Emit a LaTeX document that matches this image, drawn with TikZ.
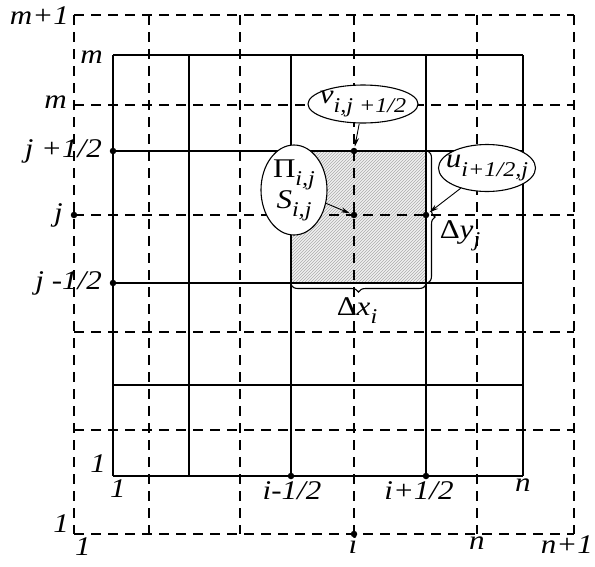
\documentclass[tikz,border=0pt]{standalone}
\usepackage{fontspec}
\setmainfont{Liberation Serif}[FakeStretch = 1.15]
\usetikzlibrary{positioning}
\usetikzlibrary{shapes.geometric}
\usetikzlibrary{arrows.meta}
\usetikzlibrary{patterns}
\usetikzlibrary{decorations.pathreplacing}

\tikzset{
	solidline/.style = {line width = 1.6pt},
	dashline/.style = {line width = 1.6pt, dash pattern = on 10pt off 7pt},
	lbl/.style = {font = \fontsize{27}{30}\selectfont\itshape, inner sep = 1pt},
	bubble/.style = {ellipse, draw, fill = white, line width = 1.1pt, inner sep = -10pt, font = \fontsize{27}{31}\selectfont\itshape},
	gridpt/.style = {circle, fill = black, inner sep = 0pt, minimum size = 6.5pt},
	pointer/.style = {-{Stealth[length = 9pt, width = 5pt]}, line width = 0.9pt, shorten > = 1pt},
	bracket/.style = {decorate, decoration = {brace, amplitude = 7pt}, line width = 1.1pt}
}
\newcommand{\lowidx}[1]{\raisebox{-0.3em}{\fontsize{21}{21}\selectfont #1}}

\begin{document}
\begin{tikzpicture}[x = 1pt, y = -1pt]
				\useasboundingbox (0, 0) rectangle (595, 566);
				% shaded control volume
				\fill[gray!12] (291, 151) rectangle (426, 283);
				\fill[pattern = north east lines, pattern color = gray!65] (291, 151) rectangle (426, 283);
				% staggered grid
				\foreach \gx in {113, 189, 291, 426, 523} \draw[solidline] (\gx, 55) -- (\gx, 476);
				\foreach \gy in {55, 151, 283, 385, 476} \draw[solidline] (113, \gy) -- (523, \gy);
				\foreach \gx in {74, 149, 240, 354, 477, 574} \draw[dashline] (\gx, 15) -- (\gx, 534);
				\foreach \gy in {15, 105, 215, 332, 430, 534} \draw[dashline] (74, \gy) -- (574, \gy);
				% marked points
				\node[gridpt] (vface) at (354, 151) {};
				\node[gridpt] (centre) at (354, 215) {};
				\node[gridpt] (uface) at (426, 215) {};
				\node[gridpt] (jtop) at (113, 151) {};
				\node[gridpt] (jmid) at (74, 215) {};
				\node[gridpt] (jbot) at (113, 283) {};
				\node[gridpt] (ileft) at (291, 476) {};
				\node[gridpt] (iright) at (426, 476) {};
				\node[gridpt] (imid) at (354, 534) {};
				% row labels
				\node[lbl, anchor = east] (mtop) at (70, 16) {m+1};
				\node[lbl, anchor = east] (msolid) at (104, 57) {m};
				\node[lbl, anchor = east] (mdash) at (68, 102) {m};
				\node[lbl, anchor = east] (jtoplbl) at (103, 151) {j +1/2};
				\node[lbl, anchor = east] (jmidlbl) at (64, 215) {j};
				\node[lbl, anchor = east] (jbotlbl) at (103, 283) {j -1/2};
				\node[lbl, anchor = east] (onesolid) at (107, 464) {1};
				\node[lbl, anchor = east] (onedash) at (70, 524) {1};
				% column labels
				\node[lbl, anchor = north] (oneleft) at (118, 478) {1};
				\node[lbl, anchor = north] (ileftlbl) at (292, 480) {i-1/2};
				\node[lbl, anchor = north] (irightlbl) at (419, 480) {i+1/2};
				\node[lbl, anchor = north] (nsolid) at (523, 478) {n};
				\node[lbl, anchor = north] (onebot) at (83, 536) {1};
				\node[lbl, anchor = north] (imidlbl) at (353, 534) {i};
				\node[lbl, anchor = north] (ndash) at (477, 536) {n};
				\node[lbl, anchor = north east] (nplus) at (594, 534) {n+1};
				% variables
				\node[bubble, minimum width = 110pt, minimum height = 38pt] (vvar) at (363, 104) {v\lowidx{i,j +1/2}};
				\node[bubble, minimum width = 66pt, minimum height = 90pt, align = center] (pvar) at (294, 190) {{\upshape Π}\lowidx{i,j}\\[0pt]S\lowidx{i,j}};
				\node[bubble, minimum width = 97pt, minimum height = 47pt] (uvar) at (487, 168) {u\lowidx{i+1/2,j}};
				\draw[pointer] (vvar) -- (vface);
				\draw[pointer] (pvar) -- (centre);
				\draw[pointer] (uvar) -- (uface);
				% cell sizes
				\draw[bracket] (428, 151) -- (428, 283);
				\draw[bracket] (426, 285) -- (291, 285);
				\node[lbl, font = \fontsize{27}{31}\selectfont\itshape] (dy) at (460, 236) {{\upshape Δ}y\lowidx{j}};
				\node[lbl, font = \fontsize{27}{31}\selectfont\itshape] (dx) at (357, 311) {{\upshape Δ}x\lowidx{i}};
			\end{tikzpicture}
\end{document}
